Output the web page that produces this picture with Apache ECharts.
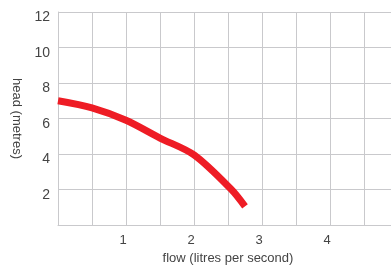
<!DOCTYPE html>
<html>
<head>
<meta charset="utf-8">
<script src="https://cdn.jsdelivr.net/npm/echarts@6/dist/echarts.min.js"></script>
<style>
  html, body { margin: 0; padding: 0; background: #fff; }
</style>
</head>
<body>
<div id="main" style="width: 391px;height:267px;"></div>
<script type="text/javascript">
    // 流量 (L/s) 与 扬程 (m)
    var flow = [0, 0.5, 1, 1.5, 2, 2.55, 2.75];
    var head = [7.0, 6.6, 5.9, 4.9, 3.95, 2.0, 1.05];
    var xTicks = ['1', '2', '3', '4'];

    var myChart = echarts.init(document.getElementById('main'));

    var points = flow.map(function (f, i) { return [f, head[i]]; });
    var gridColor = '#c9c9cc';
    var textColor = '#444';
    var font = 'Liberation Sans';

    var option = {
        animation: false,
        grid: { left: 58, top: 12, bottom: 42, right: -7, outerBoundsMode: 'none', containLabel: false },
        xAxis: {
            type: 'value',
            min: 0,
            max: 5,
            interval: 0.5,
            name: 'flow (litres per second)',
            nameLocation: 'middle',
            nameGap: 26,
            nameTextStyle: { color: textColor, fontFamily: font, fontSize: 13, verticalAlign: 'top' },
            axisLine: { show: true, lineStyle: { color: gridColor, width: 1 } },
            axisTick: { show: false },
            splitLine: { show: true, lineStyle: { color: gridColor, width: 1 } },
            axisLabel: {
                color: textColor, fontFamily: font, fontSize: 13, margin: 9,
                padding: [0, 6, 0, 0],
                formatter: function (v) {
                    var s = String(v);
                    return xTicks.indexOf(s) >= 0 ? s : '';
                }
            }
        },
        yAxis: {
            type: 'value',
            min: 0,
            max: 12,
            interval: 2,
            name: 'head (metres)',
            nameLocation: 'middle',
            nameRotate: -90,
            nameGap: 29,
            nameTextStyle: { color: textColor, fontFamily: font, fontSize: 13 },
            axisLine: { show: true, lineStyle: { color: gridColor, width: 1 } },
            axisTick: { show: false },
            splitLine: { show: true, lineStyle: { color: gridColor, width: 1 } },
            axisLabel: {
                color: textColor, fontFamily: font, fontSize: 14, margin: 8,
                showMinLabel: false,
                verticalAlign: 'top', lineHeight: 11
            }
        },
        series: [{
            type: 'line',
            data: points,
            smooth: 0.3,
            showSymbol: false,
            symbol: 'none',
            lineStyle: { color: '#ee1c25', width: 7, cap: 'butt' },
            z: 5
        }]
    };

    myChart.setOption(option);
</script>
</body>
</html>
